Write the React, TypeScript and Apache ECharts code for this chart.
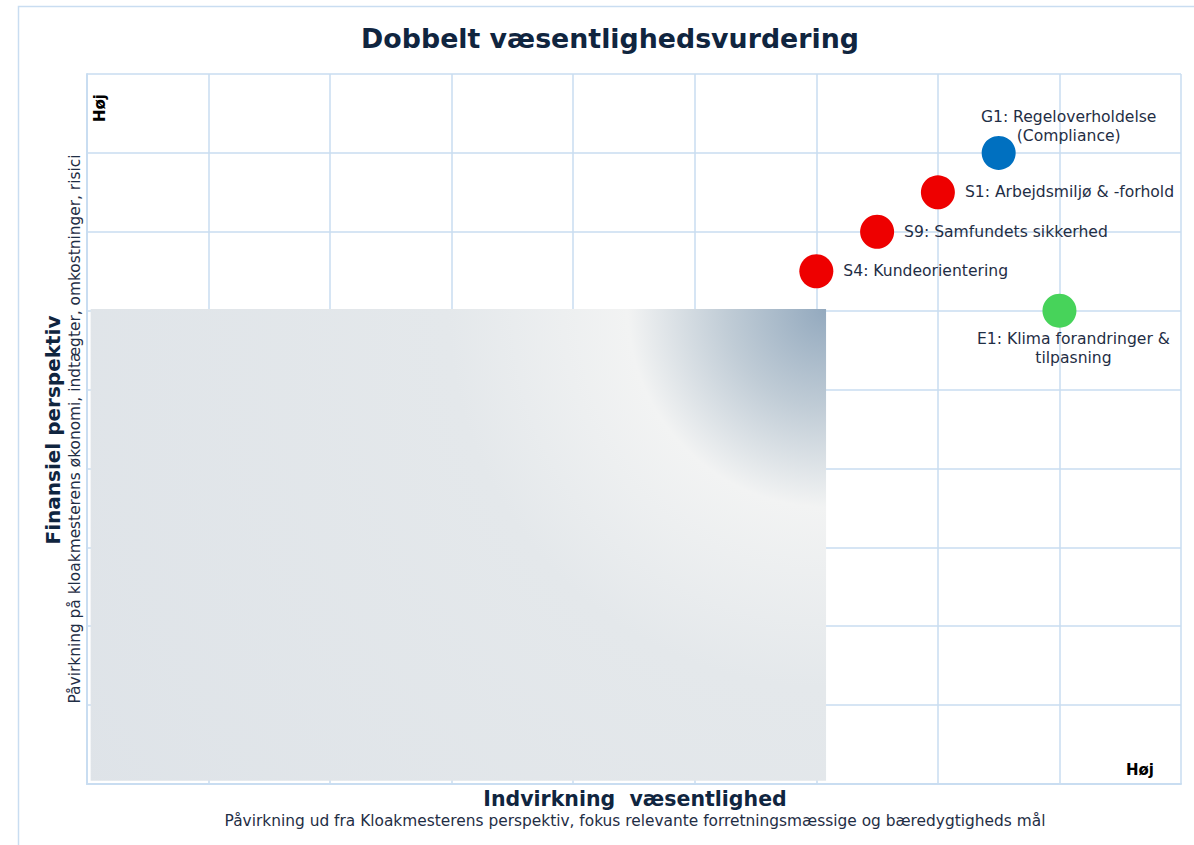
import React, { useEffect, useRef } from "react";
import * as echarts from "echarts";

const pointNames = [
  "G1: Regeloverholdelse\n(Compliance)",
  "S1: Arbejdsmiljø & -forhold",
  "S9: Samfundets sikkerhed",
  "S4: Kundeorientering",
  "E1: Klima forandringer &\ntilpasning",
];
const impactValues = [7.5, 7, 6.5, 6, 8];
const financialValues = [8, 7.5, 7, 6.5, 6];
const pointColors = ["#0070c0", "#ee0000", "#ee0000", "#ee0000", "#47d35a"];
const labelPlacement = ["top", "right", "right", "right", "bottom"];

const zoneFrom = [0.03, 0.04];
const zoneTo = [6.08, 6.02];

const axisMin = 0;
const axisMax = 9;

const FONT = "DejaVu Sans";
const NAVY = "#10253f";
const TEXT = "#1f2e45";

export default function App() {
  const ref = useRef<HTMLDivElement>(null);

  useEffect(() => {
    if (!ref.current) return;
    const chart = echarts.init(ref.current, null, { renderer: "svg" });

    const labelFor = (i: number) => {
      const p = labelPlacement[i];
      const base: any = {
        show: true,
        formatter: pointNames[i],
        color: TEXT,
        fontFamily: FONT,
        fontSize: 15.6,
        lineHeight: 19,
        align: "center",
      };
      if (p === "top") return { ...base, position: "top", offset: [70, 15] };
      if (p === "bottom") return { ...base, position: "bottom", distance: 2, offset: [14, 0] };
      return { ...base, position: "right", distance: 10, align: "left" };
    };

    const data = pointNames.map((n, i) => ({
      name: n,
      value: [impactValues[i], financialValues[i]],
      itemStyle: { color: pointColors[i], opacity: 1 },
      label: labelFor(i),
    }));

    const buildOption = (zoneColor: any) => ({
      animation: false,
      backgroundColor: "#ffffff",
      grid: { left: 87, top: 74, width: 1094, height: 710, containLabel: false },
      xAxis: {
        type: "value",
        min: axisMin,
        max: axisMax,
        interval: 1,
        axisLine: { show: true, lineStyle: { color: "#c9ddf1", width: 2 } },
        axisTick: { show: false },
        axisLabel: { show: false },
        splitLine: { show: true, lineStyle: { color: "#c9ddf1", width: 1.5 } },
      },
      yAxis: {
        type: "value",
        min: axisMin,
        max: axisMax,
        interval: 1,
        axisLine: { show: true, lineStyle: { color: "#c9ddf1", width: 2 } },
        axisTick: { show: false },
        axisLabel: { show: false },
        splitLine: { show: true, lineStyle: { color: "#c9ddf1", width: 1.5 } },
      },
      series: [
        {
          type: "scatter",
          symbolSize: 34,
          data,
          emphasis: { disabled: true },
          markArea: {
            silent: true,
            itemStyle: { color: zoneColor, borderWidth: 0, opacity: 1 },
            data: [[{ coord: zoneFrom }, { coord: zoneTo }]],
          },
          z: 3,
        },
      ],
      graphic: [
        {
          type: "rect",
          silent: true,
          shape: { x: 18.5, y: 6.5, width: 1200, height: 900 },
          style: { fill: "none", stroke: "#c9ddf1", lineWidth: 1.5 },
          z: 0,
        },
        {
          type: "text",
          x: 610,
          y: 38,
          style: {
            text: "Dobbelt væsentlighedsvurdering",
            fontFamily: FONT,
            fontWeight: "bold",
            fontSize: 26.8,
            fill: NAVY,
            textAlign: "center",
            textVerticalAlign: "middle",
          },
        },
        {
          type: "text",
          x: 635,
          y: 799,
          style: {
            text: "Indvirkning  væsentlighed",
            fontFamily: FONT,
            fontWeight: "bold",
            fontSize: 20.5,
            fill: NAVY,
            textAlign: "center",
            textVerticalAlign: "middle",
          },
        },
        {
          type: "text",
          x: 635,
          y: 821,
          style: {
            text: "Påvirkning ud fra Kloakmesterens perspektiv, fokus relevante forretningsmæssige og bæredygtigheds mål",
            fontFamily: FONT,
            fontSize: 15.4,
            fill: TEXT,
            textAlign: "center",
            textVerticalAlign: "middle",
          },
        },
        {
          type: "text",
          x: 53,
          y: 430,
          rotation: Math.PI / 2,
          style: {
            text: "Finansiel perspektiv",
            fontFamily: FONT,
            fontWeight: "bold",
            fontSize: 20,
            fill: NAVY,
            textAlign: "center",
            textVerticalAlign: "middle",
          },
        },
        {
          type: "text",
          x: 75,
          y: 429,
          rotation: Math.PI / 2,
          style: {
            text: "Påvirkning på kloakmesterens økonomi, indtægter, omkostninger, risici",
            fontFamily: FONT,
            fontSize: 15.4,
            fill: TEXT,
            textAlign: "center",
            textVerticalAlign: "middle",
          },
        },
        {
          type: "text",
          x: 100,
          y: 108,
          rotation: Math.PI / 2,
          style: {
            text: "Høj",
            fontFamily: FONT,
            fontWeight: "bold",
            fontSize: 15,
            fill: "#000000",
            textAlign: "center",
            textVerticalAlign: "middle",
          },
        },
        {
          type: "text",
          x: 1140,
          y: 770,
          style: {
            text: "Høj",
            fontFamily: FONT,
            fontWeight: "bold",
            fontSize: 15,
            fill: "#000000",
            textAlign: "center",
            textVerticalAlign: "middle",
          },
        },
      ],
    });

    chart.setOption(buildOption("#e1e6ea"));
    const corner = chart.convertToPixel({ gridIndex: 0 }, zoneTo) as number[];
    const grad = new echarts.graphic.RadialGradient(
      corner[0],
      corner[1],
      900,
      [
        { offset: 0, color: "#93a9be" },
        { offset: 0.11, color: "#c0ccd6" },
        { offset: 0.22, color: "#f2f3f3" },
        { offset: 0.42, color: "#e4e8eb" },
        { offset: 1, color: "#dee3e8" },
      ],
      true
    );
    chart.setOption(buildOption(grad));

    return () => chart.dispose();
  }, []);

  return (
    <div
      ref={ref}
      style={{ position: "fixed", left: 0, top: 0, width: 1194, height: 845 }}
    />
  );
}
